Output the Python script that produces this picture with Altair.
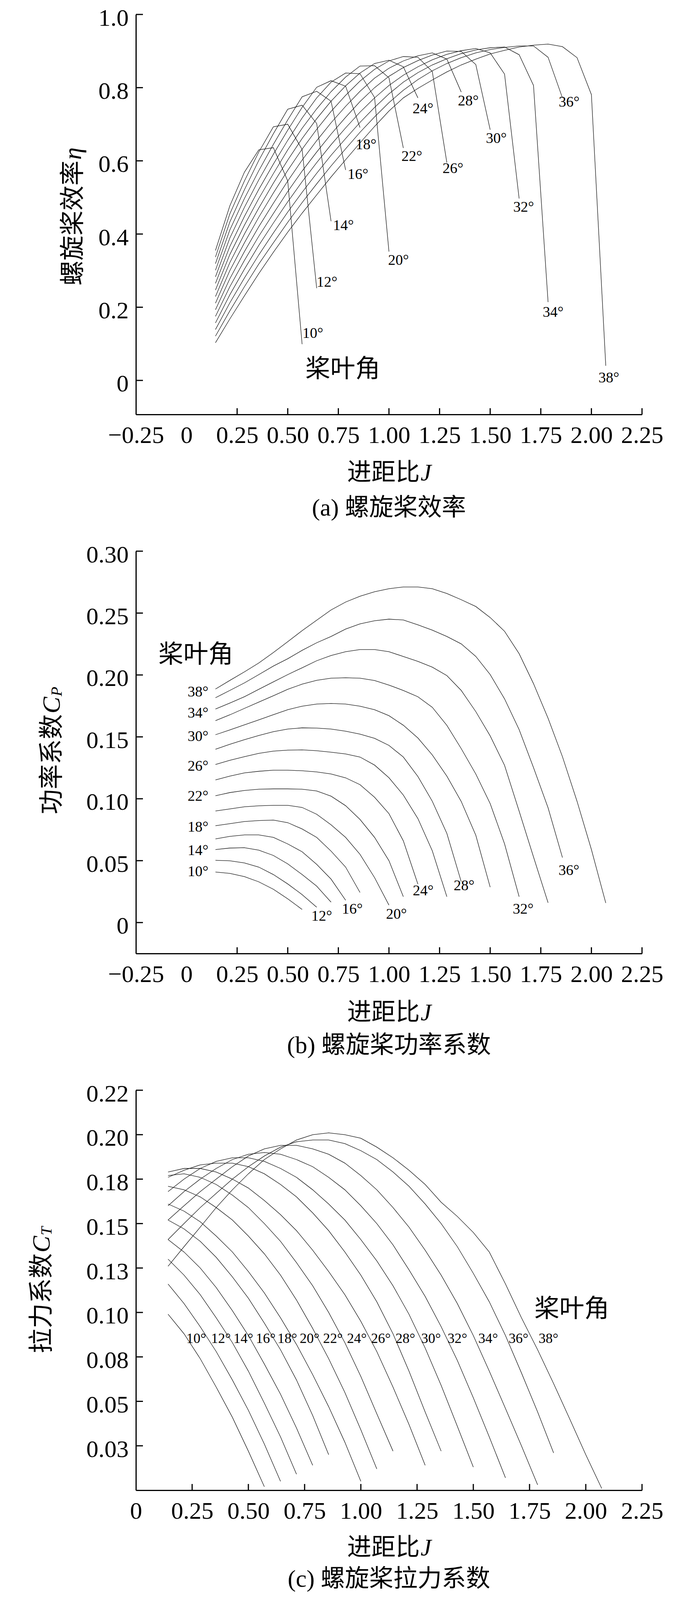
import altair as alt
import pandas as pd

# ---------------- data ----------------
J_GRID = [0.143, 0.214, 0.286, 0.357, 0.429, 0.500, 0.571, 0.643, 0.714, 0.786,
          0.857, 0.929, 1.000, 1.071, 1.143, 1.214, 1.286, 1.357, 1.429, 1.500,
          1.571, 1.643, 1.714, 1.786, 1.857, 1.929, 2.000, 2.071]
ANGLES = [10, 12, 14, 16, 18, 20, 22, 24, 26, 28, 30, 32, 34, 36, 38]

ETA_10 = [0.355, 0.477, 0.569, 0.630, 0.636, 0.545, 0.099]
ETA_12 = [0.337, 0.455, 0.545, 0.624, 0.693, 0.700, 0.631, 0.252]
ETA_14 = [0.319, 0.433, 0.521, 0.601, 0.674, 0.741, 0.752, 0.702, 0.435]
ETA_16 = [0.301, 0.411, 0.497, 0.573, 0.645, 0.712, 0.775, 0.790, 0.763, 0.575]
ETA_18 = [0.283, 0.389, 0.473, 0.548, 0.618, 0.684, 0.746, 0.801, 0.819, 0.804, 0.691]
ETA_20 = [0.265, 0.366, 0.448, 0.522, 0.591, 0.656, 0.717, 0.772, 0.815, 0.840, 0.838, 0.773, 0.352]
ETA_22 = [0.247, 0.344, 0.424, 0.497, 0.565, 0.630, 0.689, 0.742, 0.789, 0.829, 0.859, 0.860, 0.827, 0.635]
ETA_24 = [0.229, 0.322, 0.400, 0.471, 0.539, 0.602, 0.661, 0.715, 0.763, 0.805, 0.840, 0.866, 0.875, 0.857, 0.772]
ETA_26 = [0.211, 0.300, 0.376, 0.446, 0.512, 0.574, 0.632, 0.686, 0.735, 0.779, 0.818, 0.850, 0.873, 0.885, 0.883, 0.844, 0.595]
ETA_28 = [0.193, 0.278, 0.352, 0.420, 0.484, 0.545, 0.602, 0.655, 0.704, 0.749, 0.790, 0.826, 0.853, 0.873, 0.887, 0.895, 0.878, 0.788]
ETA_30 = [0.175, 0.256, 0.328, 0.394, 0.456, 0.516, 0.572, 0.624, 0.673, 0.719, 0.762, 0.800, 0.831, 0.855, 0.874, 0.889, 0.900, 0.899, 0.863, 0.685]
ETA_32 = [0.157, 0.234, 0.304, 0.369, 0.430, 0.488, 0.543, 0.595, 0.644, 0.690, 0.733, 0.772, 0.806, 0.834, 0.857, 0.876, 0.891, 0.901, 0.907, 0.895, 0.837, 0.497]
ETA_34 = [0.139, 0.212, 0.280, 0.343, 0.403, 0.460, 0.514, 0.566, 0.615, 0.661, 0.705, 0.746, 0.783, 0.815, 0.841, 0.862, 0.879, 0.893, 0.903, 0.909, 0.911, 0.890, 0.806, 0.214]
ETA_36 = [0.121, 0.190, 0.256, 0.318, 0.376, 0.432, 0.486, 0.537, 0.586, 0.633, 0.678, 0.720, 0.759, 0.793, 0.822, 0.846, 0.866, 0.882, 0.895, 0.904, 0.910, 0.914, 0.914, 0.883, 0.772]
ETA_38 = [0.103, 0.168, 0.231, 0.292, 0.350, 0.405, 0.457, 0.507, 0.556, 0.603, 0.649, 0.694, 0.736, 0.772, 0.798, 0.821, 0.843, 0.862, 0.878, 0.892, 0.902, 0.911, 0.916, 0.919, 0.912, 0.882, 0.781, 0.040]

CP_10 = [0.0408, 0.0397, 0.0371, 0.0329, 0.0269, 0.0192, 0.0106]
CP_12 = [0.0503, 0.0499, 0.0482, 0.0448, 0.0388, 0.0312, 0.0226, 0.0124]
CP_14 = [0.0590, 0.0602, 0.0605, 0.0585, 0.0542, 0.0474, 0.0388, 0.0294, 0.0165]
CP_16 = [0.0676, 0.0696, 0.0708, 0.0708, 0.0688, 0.0635, 0.0572, 0.0470, 0.0351, 0.0180]
CP_18 = [0.0782, 0.0799, 0.0816, 0.0824, 0.0828, 0.0807, 0.0756, 0.0688, 0.0577, 0.0448, 0.0243]
CP_20 = [0.0901, 0.0918, 0.0935, 0.0943, 0.0947, 0.0947, 0.0930, 0.0875, 0.0790, 0.0688, 0.0551, 0.0363, 0.0141]
CP_22 = [0.1024, 0.1050, 0.1067, 0.1077, 0.1080, 0.1080, 0.1077, 0.1063, 0.1021, 0.0944, 0.0833, 0.0688, 0.0500, 0.0209]
CP_24 = [0.1152, 0.1183, 0.1209, 0.1222, 0.1231, 0.1231, 0.1226, 0.1217, 0.1200, 0.1169, 0.1114, 0.1012, 0.0880, 0.0660, 0.0310]
CP_26 = [0.1277, 0.1311, 0.1340, 0.1367, 0.1385, 0.1393, 0.1395, 0.1388, 0.1376, 0.1362, 0.1337, 0.1272, 0.1170, 0.1030, 0.0840, 0.0580, 0.0209]
CP_28 = [0.1400, 0.1440, 0.1477, 0.1511, 0.1542, 0.1563, 0.1573, 0.1571, 0.1563, 0.1546, 0.1522, 0.1488, 0.1431, 0.1337, 0.1180, 0.0980, 0.0720, 0.0330]
CP_30 = [0.1517, 0.1556, 0.1597, 0.1637, 0.1679, 0.1719, 0.1748, 0.1765, 0.1770, 0.1765, 0.1748, 0.1719, 0.1671, 0.1594, 0.1491, 0.1354, 0.1183, 0.0978, 0.0705, 0.0286]
CP_32 = [0.1631, 0.1678, 0.1730, 0.1781, 0.1832, 0.1884, 0.1926, 0.1957, 0.1974, 0.1977, 0.1974, 0.1955, 0.1918, 0.1875, 0.1824, 0.1739, 0.1593, 0.1405, 0.1200, 0.0961, 0.0636, 0.0209]
CP_34 = [0.1725, 0.1773, 0.1824, 0.1884, 0.1944, 0.2003, 0.2058, 0.2115, 0.2157, 0.2188, 0.2205, 0.2205, 0.2188, 0.2149, 0.2110, 0.2063, 0.1995, 0.1875, 0.1704, 0.1508, 0.1270, 0.0900, 0.0530, 0.0160]
CP_36 = [0.1816, 0.1875, 0.1936, 0.2003, 0.2072, 0.2131, 0.2199, 0.2260, 0.2311, 0.2371, 0.2413, 0.2438, 0.2451, 0.2444, 0.2405, 0.2362, 0.2311, 0.2251, 0.2150, 0.2003, 0.1807, 0.1559, 0.1252, 0.0927, 0.0525]
CP_38 = [0.1886, 0.1956, 0.2025, 0.2097, 0.2181, 0.2269, 0.2358, 0.2442, 0.2525, 0.2589, 0.2636, 0.2672, 0.2697, 0.2711, 0.2711, 0.2697, 0.2658, 0.2608, 0.2553, 0.2464, 0.2353, 0.2172, 0.1930, 0.1650, 0.1340, 0.0980, 0.0590, 0.0158]

CT_10 = [0.099, 0.088, 0.074, 0.058, 0.041, 0.022, 0.002]
CT_12 = [0.116, 0.105, 0.092, 0.078, 0.062, 0.045, 0.026, 0.005]
CT_14 = [0.130, 0.121, 0.110, 0.097, 0.083, 0.067, 0.049, 0.030, 0.009]
CT_16 = [0.141, 0.134, 0.125, 0.114, 0.101, 0.087, 0.071, 0.054, 0.035, 0.014]
CT_18 = [0.152, 0.147, 0.140, 0.131, 0.120, 0.108, 0.094, 0.079, 0.062, 0.042, 0.020]
CT_20 = [0.161, 0.157, 0.151, 0.143, 0.134, 0.123, 0.111, 0.097, 0.082, 0.065, 0.047, 0.027, 0.005]
CT_22 = [0.171, 0.169, 0.165, 0.159, 0.152, 0.143, 0.133, 0.121, 0.107, 0.091, 0.074, 0.055, 0.034, 0.012]
CT_24 = [0.177, 0.178, 0.176, 0.172, 0.166, 0.159, 0.150, 0.140, 0.128, 0.115, 0.100, 0.083, 0.064, 0.043, 0.022]
CT_26 = [0.179, 0.181, 0.181, 0.179, 0.175, 0.170, 0.163, 0.155, 0.146, 0.135, 0.123, 0.110, 0.095, 0.078, 0.058, 0.037, 0.014]
CT_28 = [0.176, 0.180, 0.183, 0.184, 0.184, 0.182, 0.178, 0.172, 0.165, 0.156, 0.146, 0.134, 0.121, 0.106, 0.088, 0.067, 0.044, 0.022]
CT_30 = [0.168, 0.175, 0.181, 0.185, 0.187, 0.187, 0.185, 0.181, 0.176, 0.169, 0.161, 0.152, 0.141, 0.129, 0.115, 0.099, 0.080, 0.059, 0.036, 0.013]
CT_32 = [0.160, 0.168, 0.175, 0.181, 0.186, 0.189, 0.190, 0.189, 0.186, 0.182, 0.176, 0.169, 0.160, 0.150, 0.138, 0.124, 0.109, 0.092, 0.073, 0.052, 0.030, 0.007]
CT_34 = [0.152, 0.160, 0.168, 0.175, 0.182, 0.188, 0.192, 0.194, 0.194, 0.192, 0.189, 0.184, 0.177, 0.169, 0.159, 0.148, 0.135, 0.121, 0.105, 0.087, 0.067, 0.046, 0.025, 0.003]
CT_36 = [0.141, 0.150, 0.159, 0.167, 0.175, 0.182, 0.188, 0.193, 0.196, 0.197, 0.197, 0.195, 0.191, 0.186, 0.179, 0.171, 0.161, 0.150, 0.137, 0.122, 0.106, 0.087, 0.066, 0.044, 0.021]
CT_38 = [0.126, 0.137, 0.148, 0.159, 0.169, 0.178, 0.186, 0.192, 0.197, 0.200, 0.201, 0.200, 0.198, 0.193, 0.187, 0.180, 0.172, 0.162, 0.154, 0.145, 0.134, 0.116, 0.097, 0.079, 0.060, 0.040, 0.020, 0.001]

ETA = [ETA_10, ETA_12, ETA_14, ETA_16, ETA_18, ETA_20, ETA_22, ETA_24, ETA_26, ETA_28, ETA_30, ETA_32, ETA_34, ETA_36, ETA_38]
CP = [CP_10, CP_12, CP_14, CP_16, CP_18, CP_20, CP_22, CP_24, CP_26, CP_28, CP_30, CP_32, CP_34, CP_36, CP_38]
CT = [CT_10, CT_12, CT_14, CT_16, CT_18, CT_20, CT_22, CT_24, CT_26, CT_28, CT_30, CT_32, CT_34, CT_36, CT_38]

# curve labels (centre of text, data coordinates)
ETA_LAB_J = [0.624, 0.694, 0.775, 0.847, 0.887, 1.047, 1.113, 1.168, 1.316, 1.392, 1.530, 1.665, 1.811, 1.890, 2.086]
ETA_LAB_V = [0.128, 0.268, 0.423, 0.562, 0.643, 0.328, 0.612, 0.742, 0.578, 0.763, 0.661, 0.473, 0.186, 0.760, 0.006]
CP_LEFT_ANG = [38, 34, 30, 26, 22, 18, 14, 10]
CP_LEFT_V = [0.186, 0.169, 0.150, 0.126, 0.102, 0.077, 0.058, 0.041]
CP_LEFT_J = 0.108
CP_BOT_ANG = [12, 16, 20, 24, 28, 32, 36]
CP_BOT_J = [0.668, 0.819, 1.037, 1.169, 1.371, 1.663, 1.889]
CP_BOT_V = [0.005, 0.0105, 0.0065, 0.0255, 0.0296, 0.0105, 0.042]
CT_LAB_J = [0.268, 0.378, 0.478, 0.577, 0.673, 0.772, 0.876, 0.982, 1.089, 1.198, 1.312, 1.429, 1.566, 1.701, 1.834]
CT_LAB_V = 0.0853

X_LABELS_AB = [-0.25, 0, 0.25, 0.5, 0.75, 1.0, 1.25, 1.5, 1.75, 2.0, 2.25]
X_LABELS_C = [0, 0.25, 0.5, 0.75, 1.0, 1.25, 1.5, 1.75, 2.0, 2.25]
X_TICKMARKS = [0.25, 0.5, 0.75, 1.0, 1.25, 1.5, 1.75, 2.0, 2.25]
ETA_TICKS = [0, 0.2, 0.4, 0.6, 0.8, 1.0]
CP_TICKS = [0, 0.05, 0.10, 0.15, 0.20, 0.25, 0.30]
CT_TICKS = [0.025, 0.05, 0.075, 0.10, 0.125, 0.15, 0.175, 0.20, 0.225]
CT_TICK_TEXT = ["0.03", "0.05", "0.08", "0.10", "0.13", "0.15", "0.18", "0.20", "0.22"]

# ---------------- styling ----------------
W = 1296
SERIF = "Liberation Serif"
MIXED = "Liberation Serif, Noto Sans CJK SC"
CJK = "Noto Sans CJK SC"
TICK_FS = 62
TITLE_FS = 62
LAB_FS = 38
LINE_COLOR = "#151515"


def curve_frame(series):
    rows = []
    for ang, vals in zip(ANGLES, series):
        for j, v in zip(J_GRID, vals):
            rows.append({"J": j, "val": v, "angle": f"{ang}°"})
    return pd.DataFrame(rows)


def txt(text, x, y, size=TITLE_FS, font=MIXED, align="center", angle=0, italic=False):
    kw = dict(font=font, fontSize=size, color="black", align=align, baseline="middle")
    if angle:
        kw["angle"] = angle
    if italic:
        kw["fontStyle"] = "italic"
    return alt.Chart(pd.DataFrame({"t": [text]})).mark_text(**kw).encode(
        text="t:N", x=alt.value(x), y=alt.value(y))


def spacer(x, y):
    return alt.Chart(pd.DataFrame({"a": [0]})).mark_rule(color="white", strokeWidth=1).encode(
        x=alt.value(x), x2=alt.value(x), y=alt.value(y), y2=alt.value(y + 1))


def panel(series, xdom, ydom, xlabels, xexpr, ylabels, yexpr, H,
          label_layers, title_layers, extra=None):
    xs = alt.Scale(domain=xdom, nice=False, zero=False)
    ys = alt.Scale(domain=ydom, nice=False, zero=False)
    xaxis = alt.Axis(values=xlabels, labelExpr=xexpr, title=None, ticks=False, grid=False,
                     domainColor="black", domainWidth=3, labelFont=SERIF,
                     labelFontSize=TICK_FS, labelColor="black", labelPadding=23,
                     labelFlush=False, labelOverlap=False)
    yaxis = alt.Axis(values=ylabels, labelExpr=yexpr, title=None, ticks=False, grid=False,
                     domainColor="black", domainWidth=3, labelFont=SERIF,
                     labelFontSize=TICK_FS, labelColor="black", labelPadding=19,
                     labelOffset=9, labelFlush=False, labelOverlap=False)
    X = lambda: alt.X("J:Q", scale=xs, axis=xaxis)
    Y = lambda: alt.Y("val:Q", scale=ys, axis=yaxis)

    lines = alt.Chart(curve_frame(series)).mark_line(
        color=LINE_COLOR, strokeWidth=1.3).encode(x=X(), y=Y(), detail="angle:N")
    xt = alt.Chart(pd.DataFrame({"J": X_TICKMARKS})).mark_rule(
        color="black", strokeWidth=3).encode(x=X(), y=alt.value(H), y2=alt.value(H - 16))
    yt = alt.Chart(pd.DataFrame({"val": list(ylabels)})).mark_rule(
        color="black", strokeWidth=3).encode(y=Y(), x=alt.value(0), x2=alt.value(18))
    layers = [lines, xt, yt]
    for df, align, size, font in label_layers:
        layers.append(alt.Chart(df).mark_text(
            font=font, fontSize=size, color="black", align=align, baseline="middle"
        ).encode(x=X(), y=Y(), text="t:N"))
    layers += title_layers
    if extra:
        layers += extra
    return alt.layer(*layers).properties(width=W, height=H)


def x_title(H, off):
    split = W / 2 - 107 + 186
    return [txt("进距比", split, H + off, align="right", font=CJK),
            txt("J", split + 2, H + off, font=SERIF, align="left", italic=True)]


def y_title(cjk, sym, sub, xpos, H, center):
    n = len(cjk) * 64
    total = n + (43 if sub else 32) + (24 if sub else 0)
    bottom = center + total / 2
    split = bottom - n
    out = [txt(cjk, xpos, split, align="right", angle=270, font=CJK, size=64)]
    out.append(txt(sym, xpos, split - 2, align="left", angle=270, font=SERIF,
                   italic=True, size=64))
    if sub:
        out.append(txt(sub, xpos + 12, split - 46, align="left", angle=270, font=SERIF,
                       italic=True, size=40))
    return out


zero2 = "datum.value == 0 ? '0' : format(datum.value, '.2f')"
zero1 = "datum.value == 0 ? '0' : format(datum.value, '.1f')"
ct_expr = "[" + ",".join(f"'{s}'" for s in CT_TICK_TEXT) + "][round(datum.value * 40) - 1]"

# ---- panel (a) ----
HA = 1024
lab_a = pd.DataFrame({"J": ETA_LAB_J, "val": ETA_LAB_V, "t": [f"{a}°" for a in ANGLES]})
jyj_a = pd.DataFrame({"J": [0.772], "val": [0.030], "t": ["桨叶角"]})
pa = panel(ETA, [-0.25, 2.25], [-0.093, 1.0], X_LABELS_AB, zero2, ETA_TICKS, zero1, HA,
           [(lab_a, "center", LAB_FS, SERIF), (jyj_a, "center", 64, CJK)],
           x_title(HA, 150) + [txt("(a) 螺旋桨效率", W / 2, HA + 240)]
           + y_title("螺旋桨效率", "η", None, -160, HA, 518),
           extra=[spacer(-339, -28)])

# ---- panel (b) ----
HB = 1030
lab_b_left = pd.DataFrame({"J": [CP_LEFT_J] * len(CP_LEFT_ANG), "val": CP_LEFT_V,
                           "t": [f"{a}°" for a in CP_LEFT_ANG]})
lab_b_bot = pd.DataFrame({"J": CP_BOT_J, "val": CP_BOT_V, "t": [f"{a}°" for a in CP_BOT_ANG]})
jyj_b = pd.DataFrame({"J": [0.046], "val": [0.216], "t": ["桨叶角"]})
pb = panel(CP, [-0.25, 2.25], [-0.025, 0.30], X_LABELS_AB, zero2, CP_TICKS, zero2, HB,
           [(lab_b_left, "right", LAB_FS, SERIF), (lab_b_bot, "center", LAB_FS, SERIF),
            (jyj_b, "center", 64, CJK)],
           x_title(HB, 152) + [txt("(b) 螺旋桨功率系数", W / 2, HB + 236)]
           + y_title("功率系数", "C", "P", -214, HB, 512))

# ---- panel (c) ----
HC = 1024
lab_c = pd.DataFrame({"J": CT_LAB_J, "val": [CT_LAB_V] * len(CT_LAB_J),
                      "t": [f"{a}°" for a in ANGLES]})
jyj_c = pd.DataFrame({"J": [1.938], "val": [0.1018], "t": ["桨叶角"]})
pc = panel(CT, [0, 2.25], [0, 0.225], X_LABELS_C, zero2, CT_TICKS, ct_expr, HC,
           [(lab_c, "center", 36, SERIF), (jyj_c, "center", 64, CJK)],
           x_title(HC, 148) + [txt("(c) 螺旋桨拉力系数", W / 2, HC + 228)]
           + y_title("拉力系数", "C", "T", -240, HC, 512))

chart = alt.vconcat(pa, pb, pc, spacing=350, bounds="flush").properties(
    padding={"left": 0, "top": 0, "right": 5, "bottom": 0}
).configure_view(stroke="transparent")

chart.save("out.html", embed_options={"renderer": "svg", "actions": False})
